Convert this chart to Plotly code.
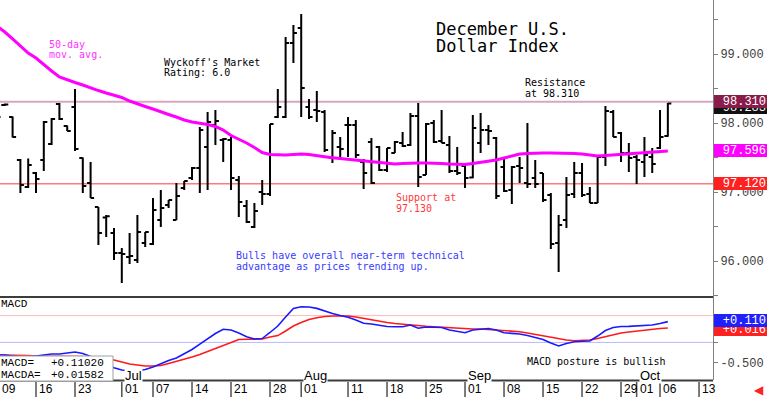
import plotly.graph_objects as go

# ---------------- data (trading-day index 0 = 09 Jun) ----------------
opens = [98.16, 98.261, 98.087, 97.464, 97.073, 97.276, 97.464, 97.696, 98.276, 97.957,
         98.232, 97.493, 97.131, 96.783, 96.63, 96.406, 96.116, 96.058, 96.015, 96.261,
         96.247, 96.595, 96.812, 96.595, 97.058, 97.203, 97.348, 97.653, 97.971, 97.754,
         97.754, 97.174, 96.797, 96.493, 97.0, 96.971, 98.087, 98.087, 99.16, 99.377,
         98.232, 98.189, 98.16, 97.493, 97.653, 97.971, 97.971, 97.435, 97.725, 97.653,
         97.319, 97.566, 97.71, 97.682, 98.102, 97.247, 98.0, 97.739, 97.682, 97.305,
         97.377, 97.21, 97.71, 97.899, 97.783, 97.363, 97.029, 97.377, 97.131, 97.203,
         97.276, 96.957, 96.261, 96.595, 96.971, 97.276, 96.971, 96.841, 97.507, 98.16,
         97.855, 97.565, 97.507, 97.435, 97.507, 97.638, 97.812]
highs = [98.189, 98.283, 98.095, 97.478, 97.486, 97.29, 98.029, 98.073, 98.29, 97.964,
         98.493, 97.5, 97.435, 96.783, 96.667, 96.479, 96.189, 96.406, 96.667, 96.421,
         96.913, 97.029, 96.884, 97.131, 97.16, 97.363, 97.942, 98.16, 98.189, 97.783,
         97.797, 97.232, 96.884, 96.841, 97.174, 97.986, 98.493, 99.246, 99.42, 99.58,
         98.348, 98.464, 98.189, 97.899, 97.797, 98.087, 98.044, 97.478, 97.783, 97.667,
         97.638, 97.74, 97.87, 98.145, 98.29, 98.0, 98.044, 98.189, 97.812, 97.653,
         97.392, 98.116, 98.145, 97.971, 97.797, 97.493, 97.377, 97.507, 98.0, 97.464,
         97.276, 96.986, 96.667, 97.218, 97.435, 97.42, 97.073, 97.536, 98.246, 98.189,
         97.87, 97.71, 97.536, 97.797, 97.638, 98.189, 98.29]
lows = [97.971, 98.246, 97.79, 96.986, 97.058, 96.986, 97.305, 97.682, 98.044, 97.884,
        97.595, 96.986, 96.913, 96.232, 96.348, 96.015, 95.682, 95.957, 95.971, 96.203,
        96.232, 96.493, 96.769, 96.595, 97.029, 97.174, 96.986, 97.029, 97.682, 97.435,
        97.029, 96.638, 96.551, 96.479, 96.812, 96.942, 98.073, 98.073, 98.87, 98.087,
        98.058, 98.015, 97.58, 97.42, 97.493, 97.507, 97.493, 97.043, 97.116, 97.305,
        97.29, 97.566, 97.653, 97.667, 97.073, 97.247, 97.71, 97.71, 97.276, 97.247,
        97.058, 97.2, 97.565, 97.682, 96.899, 97.0, 96.826, 97.131, 97.058, 97.058,
        96.855, 96.174, 95.841, 96.479, 96.913, 96.928, 96.841, 96.841, 97.377, 97.797,
        97.435, 97.29, 97.116, 97.218, 97.276, 97.624, 97.80]
closes = [98.087, 98.268, 97.797, 97.102, 97.392, 97.189, 98.015, 98.058, 98.058, 97.884,
          97.624, 97.087, 96.913, 96.406, 96.65, 96.116, 96.102, 96.073, 96.421, 96.421,
          96.74, 96.769, 96.884, 96.942, 97.16, 97.348, 97.899, 98.015, 98.029, 97.768,
          97.203, 96.855, 96.566, 96.725, 96.971, 97.986, 98.232, 99.16, 99.304, 98.507,
          98.087, 98.174, 97.609, 97.855, 97.624, 97.971, 97.536, 97.276, 97.131, 97.319,
          97.638, 97.725, 97.667, 98.102, 97.218, 97.986, 97.725, 97.71, 97.305, 97.276,
          97.203, 97.928, 97.899, 97.884, 96.942, 97.014, 97.363, 97.348, 97.116, 97.116,
          96.884, 96.247, 96.522, 96.957, 97.276, 96.957, 96.841, 97.507, 98.174, 97.797,
          97.565, 97.493, 97.464, 97.536, 97.406, 97.797, 98.283]
ma50 = [99.406, 99.319, 99.218, 99.116, 99.015, 98.942, 98.841, 98.754, 98.667, 98.624,
        98.587, 98.551, 98.508, 98.471, 98.435, 98.406, 98.37, 98.319, 98.276, 98.24,
        98.203, 98.16, 98.124, 98.087, 98.044, 98.015, 98.0, 97.979, 97.95, 97.899,
        97.819, 97.769, 97.711, 97.645, 97.573, 97.544, 97.537, 97.537, 97.544, 97.551,
        97.544, 97.522, 97.511, 97.497, 97.486, 97.474, 97.464, 97.457, 97.442, 97.428,
        97.413, 97.406, 97.413, 97.421, 97.421, 97.421, 97.421, 97.413, 97.406, 97.399,
        97.399, 97.413, 97.428, 97.442, 97.464, 97.493, 97.522, 97.551, 97.558, 97.566,
        97.566, 97.566, 97.566, 97.566, 97.558, 97.551, 97.537, 97.522, 97.529, 97.537,
        97.544, 97.551, 97.566, 97.573, 97.58, 97.585, 97.596]
macd = [-0.388, -0.388, -0.403, -0.418, -0.418, -0.403, -0.388, -0.373, -0.373, -0.354,
        -0.343, -0.366, -0.410, -0.478, -0.530, -0.578, -0.612, -0.626, -0.626, -0.604,
        -0.567, -0.515, -0.471, -0.432, -0.366, -0.306, -0.224, -0.142, -0.067, -0.004,
        -0.015, -0.059, -0.114, -0.149, -0.142, -0.052, 0.045, 0.179, 0.308, 0.333,
        0.329, 0.308, 0.268, 0.231, 0.201, 0.175, 0.135, 0.085, 0.074, 0.055,
        0.037, 0.034, 0.034, 0.059, 0.011, 0.030, 0.030, 0.022, -0.015, -0.037,
        -0.055, -0.015, 0.0, 0.007, -0.015, -0.055, -0.065, -0.074, -0.098, -0.124,
        -0.157, -0.209, -0.253, -0.216, -0.190, -0.183, -0.179, -0.105, -0.022, 0.022,
        0.037, 0.040, 0.045, 0.052, 0.059, 0.082, 0.1102]
macda = [-0.388, -0.388, -0.388, -0.395, -0.395, -0.403, -0.403, -0.403, -0.403, -0.403,
         -0.403, -0.410, -0.418, -0.432, -0.447, -0.463, -0.493, -0.523, -0.537, -0.552,
         -0.552, -0.545, -0.515, -0.485, -0.455, -0.418, -0.381, -0.336, -0.292, -0.246,
         -0.194, -0.157, -0.153, -0.149, -0.149, -0.120, -0.098, -0.030, 0.045, 0.098,
         0.142, 0.167, 0.187, 0.194, 0.194, 0.194, 0.179, 0.157, 0.135, 0.112,
         0.098, 0.082, 0.070, 0.059, 0.049, 0.041, 0.034, 0.027, 0.018, 0.007,
         0.0, 0.0, 0.0, -0.007, -0.018, -0.027, -0.033, -0.040, -0.059, -0.082,
         -0.105, -0.127, -0.149, -0.164, -0.175, -0.172, -0.164, -0.142, -0.112, -0.082,
         -0.059, -0.045, -0.030, -0.018, -0.003, 0.007, 0.0158]
idx = list(range(len(opens)))

date_labels = ["09", "16", "23", "01", "07", "14", "21", "28", "01", "11",
               "18", "25", "01", "08", "15", "22", "29", "01", "06", "13"]
date_idx = [0, 5, 10, 16, 20, 25, 30, 35, 39, 45, 50, 55, 60, 65, 70, 75, 80, 82, 85, 90]
month_labels = ["Jul", "Aug", "Sep", "Oct"]
month_idx = [16, 39, 60, 82]

price_ticks = [95.5, 96.0, 96.5, 97.0, 97.5, 98.0, 98.5, 99.0, 99.5]
resistance = 98.31
support = 97.12
last_close = 98.283
macd_upper, macd_lower = 0.2, -0.2

# ---------------- layout constants ----------------
W, H = 768, 397
PLOT_R = 713          # right edge of plotting area (px)
XR = [0.385, 91.79]
MONO = "DejaVu Sans Mono"
LMONO = "Liberation Mono"
ARIAL = "Arial, Liberation Sans"


def px(x):
    # paper x spans the plotting area (0..PLOT_R px)
    return x / PLOT_R


def py(y):
    return 1 - y / H


fig = go.Figure()
fig.add_trace(go.Ohlc(
    x=idx, open=opens, high=highs, low=lows, close=closes,
    increasing=dict(line=dict(color="black", width=2)),
    decreasing=dict(line=dict(color="black", width=2)),
    tickwidth=0.45, hoverinfo="skip", xaxis="x", yaxis="y", showlegend=False))
fig.add_trace(go.Scatter(x=idx, y=ma50, mode="lines", line=dict(color="#FF00FF", width=3),
                         hoverinfo="skip", xaxis="x", yaxis="y", showlegend=False))
fig.add_trace(go.Scatter(x=idx, y=macda, mode="lines", line=dict(color="#FF1A1A", width=1.6),
                         hoverinfo="skip", xaxis="x2", yaxis="y2", showlegend=False))
fig.add_trace(go.Scatter(x=idx, y=macd, mode="lines", line=dict(color="#1A1AFF", width=1.6),
                         hoverinfo="skip", xaxis="x2", yaxis="y2", showlegend=False))

shapes = []
shapes.append(dict(type="line", xref="paper", yref="y", x0=0, x1=1, y0=resistance, y1=resistance,
                   line=dict(color="#D9A6C2", width=2), layer="below"))
shapes.append(dict(type="line", xref="paper", yref="y", x0=0, x1=1, y0=support, y1=support,
                   line=dict(color="#FF7A7A", width=1.5), layer="below"))
shapes.append(dict(type="line", xref="paper", yref="y2", x0=0, x1=1, y0=macd_upper, y1=macd_upper,
                   line=dict(color="#FFB8B8", width=1), layer="below"))
shapes.append(dict(type="line", xref="paper", yref="y2", x0=0, x1=1, y0=macd_lower, y1=macd_lower,
                   line=dict(color="#B8B8FF", width=1), layer="below"))
shapes.append(dict(type="line", xref="paper", yref="paper", x0=0, x1=1, y0=py(297), y1=py(297),
                   line=dict(color="#3C3C3C", width=2)))
shapes.append(dict(type="line", xref="paper", yref="paper", x0=0, x1=1, y0=py(380.5), y1=py(380.5),
                   line=dict(color="#3C3C3C", width=2)))
for d in date_idx:
    if XR[0] <= d <= XR[1]:
        shapes.append(dict(type="line", xref="x2", yref="paper", x0=d, x1=d, y0=0, y1=py(382),
                           line=dict(color="#505050", width=1.5)))
shapes.append(dict(type="rect", xref="paper", yref="paper", x0=px(-2), x1=px(113), y0=py(381), y1=py(356),
                   line=dict(color="#A0A0A0", width=1), fillcolor="white"))

ann = []


def txt(text, x, y, color="black", size=10, family=MONO, xanchor="left", **kw):
    ann.append(dict(text=text, x=px(x), y=py(y), xref="paper", yref="paper", showarrow=False,
                    xanchor=xanchor, yanchor="middle", font=dict(color=color, size=size, family=family), **kw))


txt("December U.S.", 434, 28.5, size=17)
txt("Dollar Index", 434, 45.5, size=17)
txt("50-day", 47, 44, color="#FF33FF")
txt("mov. avg.", 47, 54, color="#FF33FF")
txt("Wyckoff's Market", 162, 62)
txt("Rating: 6.0", 162, 72)
txt("Resistance", 523, 82.5)
txt("at 98.310", 523, 93)
txt("Support at", 394, 197, color="#FF3A3A")
txt("97.130", 394, 208, color="#FF3A3A")
txt("Bulls have overall near-term technical", 234, 255.5, color="#3A3AFF")
txt("advantage as prices trending up.", 234, 266.5, color="#3A3AFF")
txt("MACD posture is bullish", 525, 361)
txt("MACD", -1, 304, size=11, family=LMONO)
txt("MACD=", -1, 362.5, size=11, family=LMONO)
txt("+0.11020", 49, 362.5, size=11, family=LMONO)
txt("MACDA=", -1, 374.5, size=11, family=LMONO)
txt("+0.01582", 49, 374.5, size=11, family=LMONO)
txt("\u25C0", 759, 390, color="#FF2020", size=12, family="DejaVu Sans", xanchor="center")
txt(date_labels[0], 0, 389, size=12, family=ARIAL)

for lab, d in zip(date_labels[1:], date_idx[1:]):
    ann.append(dict(text=lab, x=d, y=py(389), xref="x2", yref="paper", showarrow=False, xanchor="left",
                    yanchor="middle", xshift=1, font=dict(color="black", size=12, family=ARIAL)))
for lab, d in zip(month_labels, month_idx):
    ann.append(dict(text=lab, x=d, y=py(375.5), xref="x2", yref="paper", showarrow=False, xanchor="left",
                    yanchor="middle", xshift=2, bgcolor="white", borderpad=0,
                    font=dict(color="black", size=13, family=ARIAL)))


def tag(text, value, yref, bg, yshift=0):
    ann.append(dict(text=text, x=px(PLOT_R + 1), y=value, xref="paper", yref=yref, showarrow=False,
                    xanchor="left", yanchor="middle", yshift=yshift, bgcolor=bg, bordercolor=bg,
                    borderwidth=1, borderpad=0, width=51, height=11, align="right",
                    font=dict(color="white", size=12, family=LMONO)))


tag("98.283", last_close, "y", "#111111", yshift=-4)
tag("98.310", resistance, "y", "#8A1C4C")
tag("97.596", ma50[-1], "y", "#FF00FF")
tag("97.120", support, "y", "#FF2020")
tag("+0.016", macda[-1], "y2", "#FF2020", yshift=-2)
tag("+0.110", macd[-1], "y2", "#2020FF", yshift=1)

fig.update_layout(
    width=W, height=H, margin=dict(l=0, r=W - PLOT_R, t=0, b=0),
    paper_bgcolor="white", plot_bgcolor="white", showlegend=False,
    xaxis=dict(domain=[0, 1], range=XR, anchor="y", showticklabels=False, showgrid=False,
               zeroline=False, ticks="", rangeslider=dict(visible=False), fixedrange=True),
    yaxis=dict(domain=[100 / H, 1], range=[95.479, 99.783], anchor="x", side="right",
               tickvals=price_ticks,
               ticktext=[f"{v:.3f}" if v == int(v) else "" for v in price_ticks],
               ticks="outside", ticklen=4, tickcolor="#808080", showline=True, linecolor="#808080",
               linewidth=1, showgrid=False, zeroline=False, fixedrange=True,
               tickfont=dict(family=LMONO, size=12, color="#404040")),
    xaxis2=dict(domain=[0, 1], range=XR, anchor="y2", showticklabels=False, showgrid=False,
                zeroline=False, ticks="", fixedrange=True),
    yaxis2=dict(domain=[17 / H, 100 / H], range=[-0.761, 0.478], anchor="x2", side="right",
                tickvals=[0.2, 0.0, -0.2, -0.5], ticktext=["", "", "", "-0.500"],
                ticks="outside", ticklen=4, tickcolor="#808080", showline=True, linecolor="#808080",
                linewidth=1, showgrid=False, zeroline=False, fixedrange=True,
                tickfont=dict(family=LMONO, size=12, color="#404040")),
    shapes=shapes, annotations=ann,
)

fig.write_html("out.html", config={"displayModeBar": False},
               post_script="document.body.style.margin='0';")
